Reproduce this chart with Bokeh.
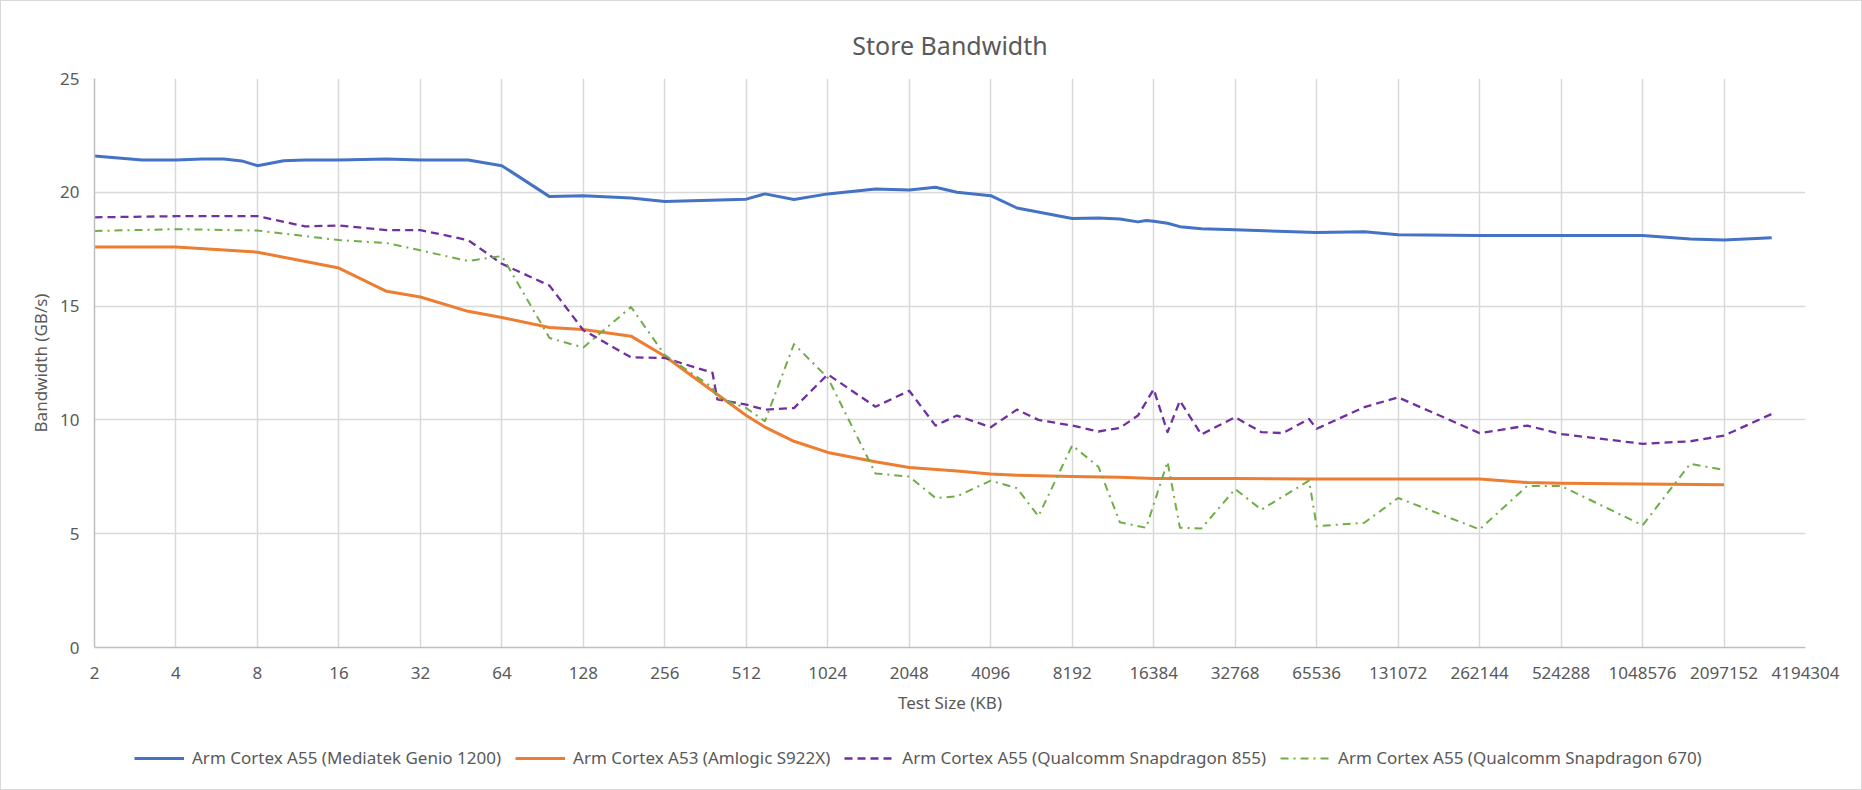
from bokeh.plotting import figure
from bokeh.layouts import column
from bokeh.models import Range1d, FixedTicker, BasicTickFormatter, Legend, LegendItem
from bokeh.embed import file_html
from bokeh.resources import INLINE

# test sizes (KB) and store bandwidth (GB/s) per chip
genio_kb = [2, 3, 4, 5, 6, 7, 8, 10, 12, 16, 24, 32, 48, 64, 96, 128, 192, 256, 512, 600,
            768, 1024, 1536, 2048, 2560, 3072, 4096, 5120, 8192, 10240, 12288, 14336, 15360,
            16384, 18432, 20480, 24576, 32768, 65536, 98304, 131072, 262144, 524288,
            1048576, 1572864, 2097152, 3145728]
genio_bw = [21.6, 21.42, 21.42, 21.46, 21.46, 21.38, 21.17, 21.39, 21.42, 21.42, 21.46, 21.42,
            21.42, 21.17, 19.81, 19.85, 19.75, 19.6, 19.7, 19.93, 19.68, 19.93, 20.15, 20.1,
            20.22, 20.0, 19.85, 19.31, 18.85, 18.87, 18.83, 18.7, 18.76, 18.73, 18.64, 18.49,
            18.4, 18.35, 18.23, 18.27, 18.14, 18.1, 18.1, 18.1, 17.95, 17.9, 18.0]

s922x_kb = [2, 4, 8, 16, 24, 32, 48, 64, 96, 128, 192, 256, 512, 600, 768, 1024, 1536, 2048,
            3072, 4096, 5120, 8192, 12288, 16384, 32768, 65536, 131072, 262144, 393216,
            524288, 1048576, 2097152]
s922x_bw = [17.6, 17.6, 17.37, 16.67, 15.65, 15.4, 14.77, 14.5, 14.06, 13.97, 13.68, 12.8,
            10.19, 9.68, 9.06, 8.57, 8.16, 7.91, 7.76, 7.62, 7.57, 7.51, 7.48, 7.43, 7.43,
            7.4, 7.4, 7.4, 7.25, 7.22, 7.18, 7.15]

sd855_kb = [2, 4, 8, 12, 16, 24, 32, 48, 64, 96, 128, 192, 256, 384, 400, 512, 600, 768, 1024,
            1536, 2048, 2560, 3072, 4096, 5120, 6144, 8192, 10240, 12288, 14336, 16384, 18432,
            20480, 24576, 32768, 40960, 49152, 61440, 65536, 98304, 131072, 262144, 393216,
            524288, 1048576, 1572864, 2097152, 3145728]
sd855_bw = [18.9, 18.95, 18.95, 18.5, 18.54, 18.34, 18.34, 17.9, 16.86, 15.9, 13.94, 12.75,
            12.72, 12.07, 10.9, 10.67, 10.45, 10.52, 12.0, 10.58, 11.28, 9.75, 10.19, 9.68,
            10.45, 10.0, 9.75, 9.49, 9.65, 10.19, 11.35, 9.46, 10.84, 9.36, 10.12, 9.46, 9.42,
            10.04, 9.61, 10.56, 10.99, 9.42, 9.75, 9.38, 8.95, 9.06, 9.31, 10.26]

sd670_kb = [2, 4, 8, 16, 24, 32, 48, 64, 96, 128, 192, 256, 384, 400, 512, 600, 768, 1024,
            1536, 2048, 2560, 3072, 4096, 5120, 6144, 8192, 10240, 12288, 15360, 18432, 20480,
            24576, 32768, 40960, 61440, 65536, 98304, 131072, 262144, 393216, 524288,
            1048576, 1572864, 2097152]
sd670_bw = [18.3, 18.38, 18.32, 17.9, 17.77, 17.45, 16.98, 17.2, 13.6, 13.18, 14.96, 12.85,
            11.42, 10.98, 10.52, 9.94, 13.33, 11.85, 7.65, 7.51, 6.57, 6.64, 7.33, 7.0, 5.77,
            8.88, 7.94, 5.5, 5.26, 8.16, 5.26, 5.23, 6.96, 6.06, 7.33, 5.33, 5.48, 6.57, 5.19,
            7.1, 7.1, 5.37, 8.07, 7.8]

names = ["Arm Cortex A55 (Mediatek Genio 1200)", "Arm Cortex A53 (Amlogic S922X)",
         "Arm Cortex A55 (Qualcomm Snapdragon 855)", "Arm Cortex A55 (Qualcomm Snapdragon 670)"]

x_ticks = [2 ** i for i in range(1, 23)]
y_ticks = [0, 5, 10, 15, 20, 25]

FONT = "Noto Sans"
GREY = "#595959"
styles = [
    dict(line_color="#4472C4", line_width=3),
    dict(line_color="#ED7D31", line_width=3),
    dict(line_color="#7030A0", line_width=2.3, line_dash="8 5"),
    dict(line_color="#70AD47", line_width=2, line_dash="8 5 2 5"),
]
series = [(genio_kb, genio_bw), (s922x_kb, s922x_bw), (sd855_kb, sd855_bw), (sd670_kb, sd670_bw)]

p = figure(width=1860, height=722, x_axis_type="log",
           x_range=Range1d(2, 4194304), y_range=Range1d(0, 25),
           output_backend="svg", toolbar_location=None,
           min_border_left=93, min_border_right=56, min_border_top=77, min_border_bottom=76)
p.outline_line_color = None

p.title.text = "Store Bandwidth"
p.title.align = "center"
p.title.vertical_align = "top"
p.title.text_font = FONT
p.title.text_font_size = "25px"
p.title.text_font_style = "normal"
p.title.text_color = GREY
p.title.standoff = 30

p.xaxis.ticker = FixedTicker(ticks=x_ticks)
p.xaxis.formatter = BasicTickFormatter(use_scientific=False)
p.yaxis.ticker = FixedTicker(ticks=y_ticks)
for ax in (p.xaxis[0], p.yaxis[0]):
    ax.major_tick_line_color = None
    ax.minor_tick_line_color = None
    ax.axis_line_color = "#bfbfbf"
    ax.axis_line_width = 1.5
    ax.major_label_text_font = FONT
    ax.major_label_text_font_size = "17px"
    ax.major_label_text_color = GREY
    ax.axis_label_text_font = FONT
    ax.axis_label_text_font_size = "17px"
    ax.axis_label_text_font_style = "normal"
    ax.axis_label_text_color = GREY
p.xaxis.axis_label = "Test Size (KB)"
p.yaxis.axis_label = "Bandwidth (GB/s)"
p.xaxis.major_label_standoff = 13
p.yaxis.major_label_standoff = 9
p.xaxis.axis_label_standoff = 9
p.yaxis.axis_label_standoff = 5

p.grid.grid_line_color = "#d9d9d9"
p.grid.grid_line_width = 1.5

for (xs, ys), st in zip(series, styles):
    p.line(xs, ys, line_join="round", **st)

# legend strip under the chart; its lines fall outside its empty frame
leg = figure(width=1860, height=66, x_range=Range1d(0, 1), y_range=Range1d(0, 1),
             output_backend="svg", toolbar_location=None, min_border=0,
             x_axis_location=None, y_axis_location=None)
leg.outline_line_color = None
leg.grid.visible = False
items = []
for name, (xs, ys), st in zip(names, series, styles):
    r = leg.line(xs, ys, **st)
    items.append(LegendItem(label=name, renderers=[r]))

legend = Legend(items=items, orientation="horizontal", location=(40, 20))
legend.border_line_color = None
legend.background_fill_alpha = 0
legend.padding = 0
legend.margin = 0
legend.spacing = 14
legend.glyph_width = 50
legend.label_standoff = 8
legend.label_text_font = FONT
legend.label_text_font_size = "17px"
legend.label_text_color = GREY
leg.add_layout(legend, "center")

page = column(p, leg, spacing=0)
page.styles = {"border": "1px solid #d9d9d9"}

open("out.html", "w").write(file_html(page, INLINE))
